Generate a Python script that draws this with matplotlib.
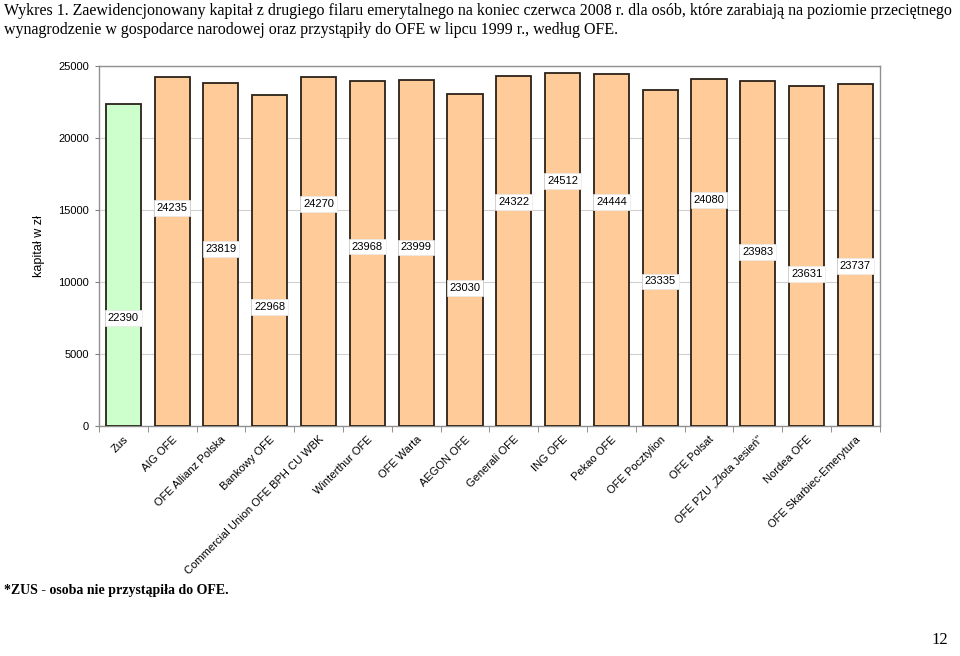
import numpy as np
import matplotlib.pyplot as plt
from matplotlib.ticker import MultipleLocator, FixedLocator

funds = ['Zus', 'AIG OFE', 'OFE Allianz Polska', 'Bankowy OFE',
         'Commercial Union OFE BPH CU WBK', 'Winterthur OFE', 'OFE Warta',
         'AEGON OFE', 'Generali OFE', 'ING OFE', 'Pekao OFE', 'OFE Pocztylion',
         'OFE Polsat', 'OFE PZU „Złota Jesień"', 'Nordea OFE',
         'OFE Skarbiec-Emerytura']
capital = [22390, 24235, 23819, 22968, 24270, 23968, 23999, 23030,
           24322, 24512, 24444, 23335, 24080, 23983, 23631, 23737]
# where the value boxes sit (data units), as in the source chart
label_y = [7500, 15150, 12300, 8250, 15400, 12450, 12400, 9600,
           15550, 17000, 15550, 10050, 15700, 12100, 10550, 11100]

title = ('Wykres 1. Zaewidencjonowany kapitał z drugiego filaru emerytalnego na koniec czerwca 2008 r. '
         'dla osób, które zarabiają na poziomie przeciętnego\n'
         'wynagrodzenie w gospodarce narodowej oraz przystąpiły do OFE w lipcu 1999 r., według OFE.')
note = '*ZUS - osoba nie przystąpiła do OFE.'

plt.rcParams['font.family'] = ['Liberation Sans', 'DejaVu Sans']

fig = plt.figure(figsize=(9.6, 6.56), dpi=100)
ax = fig.add_axes([0.103, 0.3506, 0.8135, 0.5488])

x = np.arange(len(funds))
colors = ['#CCFFCC'] + ['#FFCC99'] * (len(funds) - 1)
ax.bar(x, capital, width=0.72, color=colors, edgecolor='#2b2118', linewidth=1.3, zorder=3)

for xi, v, ly in zip(x, capital, label_y):
    ax.text(xi, ly, str(v), ha='center', va='center', fontsize=8, zorder=4,
            bbox=dict(boxstyle='square,pad=0.25', fc='white', ec='#e8e8e8', lw=0.5))

ax.set_xlim(-0.5, len(funds) - 0.5)
ax.set_ylim(0, 25000)
ax.yaxis.set_major_locator(MultipleLocator(5000))
ax.grid(axis='y', color='#d0d0d0', linewidth=0.8, zorder=0)

ax.set_xticks(x)
ax.set_xticklabels(funds, rotation=45, ha='right', rotation_mode='anchor', fontsize=8)
ax.tick_params(axis='x', which='major', length=0, pad=6)
ax.xaxis.set_minor_locator(FixedLocator(np.arange(-0.5, len(funds), 1)))
ax.tick_params(axis='x', which='minor', length=4, color='#808080')
ax.tick_params(axis='y', length=3, color='#808080', labelsize=8, pad=4)

for s in ax.spines.values():
    s.set_color('#909090')
    s.set_linewidth(1)

ax.set_ylabel('kapitał w zł', fontsize=9, labelpad=10)

fig.text(0.004, 0.996, title, ha='left', va='top', fontsize=11.5,
         family='Liberation Serif', linespacing=1.3)
fig.text(0.004, 0.1, note, ha='left', va='center', fontsize=10,
         family='Liberation Serif', weight='bold')
fig.text(0.988, 0.012, '12', ha='right', va='bottom', fontsize=12, family='Liberation Serif')

fig.savefig('out.png', dpi=100)
